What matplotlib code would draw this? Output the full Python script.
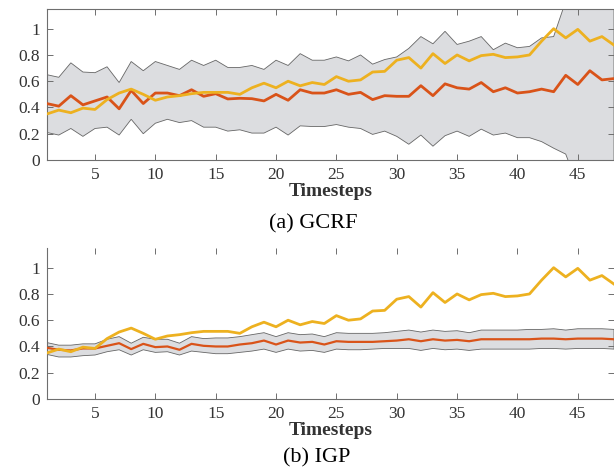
import numpy as np
import matplotlib
matplotlib.use("Agg")
import matplotlib.pyplot as plt

plt.rcParams["font.family"] = ["Liberation Serif", "DejaVu Serif"]

t = np.arange(1, 49)

truth = [0.35, 0.38, 0.36, 0.395, 0.385, 0.46, 0.51, 0.54, 0.50, 0.455,
         0.48, 0.49, 0.505, 0.515, 0.515, 0.515, 0.50, 0.55, 0.585, 0.55,
         0.60, 0.565, 0.59, 0.575, 0.635, 0.60, 0.61, 0.67, 0.675, 0.76,
         0.78, 0.70, 0.81, 0.735, 0.80, 0.755, 0.795, 0.805, 0.78, 0.785,
         0.80, 0.905, 1.0, 0.93, 0.995, 0.905, 0.94, 0.875]

gcrf_mean = [0.43, 0.41, 0.49, 0.42, 0.45, 0.48, 0.39, 0.53, 0.43, 0.51,
             0.51, 0.49, 0.535, 0.485, 0.505, 0.465, 0.47, 0.467, 0.45, 0.50,
             0.455, 0.535, 0.51, 0.51, 0.535, 0.50, 0.515, 0.46, 0.49, 0.485,
             0.485, 0.566, 0.49, 0.58, 0.55, 0.54, 0.59, 0.52, 0.55, 0.51,
             0.52, 0.54, 0.52, 0.645, 0.575, 0.68, 0.61, 0.62]
gcrf_upper = [0.65, 0.63, 0.74, 0.67, 0.665, 0.71, 0.59, 0.75, 0.68, 0.75,
              0.72, 0.69, 0.76, 0.72, 0.76, 0.705, 0.705, 0.72, 0.69, 0.76,
              0.72, 0.81, 0.76, 0.76, 0.785, 0.755, 0.80, 0.73, 0.765, 0.785,
              0.85, 0.94, 0.885, 0.98, 0.88, 0.905, 0.94, 0.84, 0.89, 0.855,
              0.865, 0.93, 0.94, 1.21, 1.4, 1.5, 1.45, 1.5]
gcrf_lower = [0.21, 0.19, 0.24, 0.18, 0.24, 0.25, 0.19, 0.31, 0.20, 0.28,
              0.31, 0.285, 0.30, 0.25, 0.25, 0.22, 0.23, 0.205, 0.205, 0.25,
              0.19, 0.26, 0.255, 0.255, 0.27, 0.25, 0.24, 0.195, 0.22, 0.18,
              0.12, 0.19, 0.105, 0.185, 0.22, 0.18, 0.235, 0.19, 0.205, 0.17,
              0.17, 0.14, 0.09, 0.045, -0.2, -0.4, -0.35, -0.4]

igp_mean = [0.39, 0.375, 0.37, 0.385, 0.385, 0.405, 0.425, 0.38, 0.42, 0.395,
            0.40, 0.375, 0.42, 0.405, 0.40, 0.40, 0.415, 0.425, 0.445, 0.415,
            0.445, 0.43, 0.435, 0.415, 0.44, 0.435, 0.435, 0.435, 0.44, 0.445,
            0.455, 0.44, 0.455, 0.445, 0.45, 0.44, 0.455, 0.455, 0.455, 0.455,
            0.455, 0.46, 0.46, 0.455, 0.46, 0.46, 0.46, 0.455]
igp_upper = [0.43, 0.41, 0.41, 0.42, 0.42, 0.455, 0.475, 0.425, 0.47, 0.455,
             0.455, 0.425, 0.475, 0.46, 0.465, 0.465, 0.475, 0.49, 0.505, 0.475,
             0.505, 0.49, 0.495, 0.475, 0.505, 0.50, 0.50, 0.50, 0.505, 0.515,
             0.525, 0.51, 0.525, 0.515, 0.52, 0.505, 0.525, 0.525, 0.525, 0.525,
             0.53, 0.53, 0.535, 0.525, 0.535, 0.535, 0.535, 0.53]
igp_lower = [0.34, 0.32, 0.32, 0.33, 0.335, 0.36, 0.375, 0.335, 0.375, 0.355,
             0.36, 0.335, 0.365, 0.355, 0.345, 0.345, 0.355, 0.365, 0.38, 0.355,
             0.38, 0.365, 0.37, 0.355, 0.38, 0.375, 0.375, 0.38, 0.385, 0.385,
             0.385, 0.37, 0.385, 0.375, 0.38, 0.37, 0.38, 0.38, 0.38, 0.38,
             0.38, 0.385, 0.385, 0.38, 0.385, 0.385, 0.385, 0.38]

RED = "#d95319"
YELLOW = "#edb120"
GRAY = "#6e6e6e"

fig = plt.figure(figsize=(6.14, 4.70), dpi=100)
ax1 = fig.add_axes([46.7 / 614, 1 - 160 / 470, 1 - 46.7 / 614, 151 / 470])
ax2 = fig.add_axes([46.7 / 614, 1 - 399 / 470, 1 - 46.7 / 614, 151 / 470])


def draw(ax, mean, upper, lower, show_top, mean_lw):
    xs = np.concatenate([t, t[::-1]])
    ys = np.concatenate([upper, lower[::-1]])
    ax.fill(xs, ys, facecolor="#dcdde0", edgecolor="#666666", linewidth=0.6, zorder=1)
    ax.plot(t, mean, color=RED, linewidth=mean_lw, zorder=3)
    ax.plot(t, truth, color=YELLOW, linewidth=2.0, zorder=4)
    ax.set_xlim(1, 48)
    ax.set_ylim(0, 1.15)
    ax.set_xticks([5, 10, 15, 20, 25, 30, 35, 40, 45])
    ax.set_yticks([0, 0.2, 0.4, 0.6, 0.8, 1])
    ax.set_yticklabels(["0", "0.2", "0.4", "0.6", "0.8", "1"])
    for side in ["left", "bottom", "top"]:
        ax.spines[side].set_color(GRAY)
        ax.spines[side].set_linewidth(0.8)
    ax.spines["right"].set_visible(False)
    ax.spines["top"].set_visible(show_top)
    ax.tick_params(direction="in", length=4, width=0.7, color=GRAY,
                   top=True, right=True, labelsize=12.5, labelcolor="#333333", pad=5)
    ax.set_xlabel("Timesteps", fontsize=14, fontweight="bold", color="#333333", labelpad=0)
    ax.patch.set_alpha(0)


draw(ax1, gcrf_mean, gcrf_upper, gcrf_lower, True, 2.0)
draw(ax2, igp_mean, igp_upper, igp_lower, False, 1.6)

fig.text(313 / 614, 1 - 224 / 470, "(a) GCRF", ha="center", va="center", fontsize=16)
fig.text(317 / 614, 1 - 458 / 470, "(b) IGP", ha="center", va="center", fontsize=16)

fig.savefig("out.png", dpi=100)
